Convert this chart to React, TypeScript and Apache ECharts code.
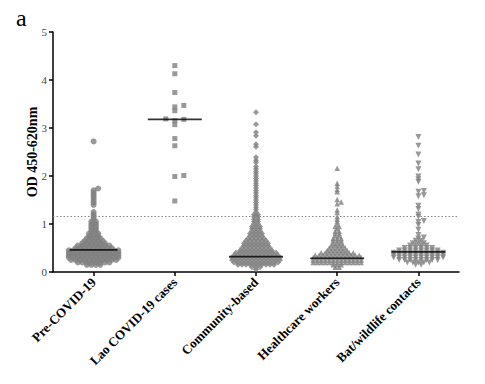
import React, { useEffect, useRef } from "react";
import * as echarts from "echarts";

const categories = [
  "Pre-COVID-19",
  "Lao COVID-19 cases",
  "Community-based",
  "Healthcare workers",
  "Bat/wildlife contacts",
];
const yTicks = [0, 1, 2, 3, 4, 5];

// Pre-COVID-19 (value rows and number of points in each row)
const preValues = [0.15, 0.2, 0.25, 0.3, 0.35, 0.4, 0.45, 0.5, 0.55, 0.6, 0.65, 0.7, 0.75, 0.8, 0.85, 0.9, 0.95, 1.0, 1.05, 1.1, 1.15, 1.2, 1.25, 1.4, 1.45, 1.5, 1.55, 1.6, 1.65, 1.7, 1.74, 2.72];
const preCounts = [4, 8, 11, 12, 12, 12, 12, 9, 8, 6, 5, 4, 3, 3, 2, 2, 2, 2, 2, 1, 1, 1, 1, 1, 1, 1, 1, 1, 1, 1, 1, 1];

// Lao COVID-19 cases
const laoValues = [4.3, 4.13, 3.74, 3.47, 3.44, 3.36, 3.19, 3.18, 3.15, 3.07, 2.78, 2.63, 2.01, 1.99, 1.48];
const laoCounts = [1, 1, 1, 1, 1, 1, 1, 1, 1, 1, 1, 1, 1, 1, 1];

// Community-based
const comValues = [0.05, 0.1, 0.15, 0.2, 0.25, 0.3, 0.35, 0.4, 0.45, 0.5, 0.55, 0.6, 0.65, 0.7, 0.75, 0.8, 0.85, 0.9, 0.95, 1.0, 1.05, 1.1, 1.15, 1.2, 1.25, 1.3, 1.35, 1.4, 1.45, 1.5, 1.55, 1.6, 1.65, 1.7, 1.75, 1.8, 1.85, 1.9, 1.95, 2.0, 2.05, 2.1, 2.15, 2.2, 2.28, 2.33, 2.39, 2.61, 2.66, 2.84, 2.91, 3.08, 3.33];
const comCounts = [1, 3, 10, 12, 13, 13, 12, 11, 9, 8, 7, 7, 6, 5, 4, 4, 3, 3, 3, 2, 2, 2, 2, 2, 1, 1, 1, 1, 1, 1, 1, 1, 1, 1, 1, 1, 1, 1, 1, 1, 1, 1, 1, 1, 1, 1, 1, 1, 1, 1, 1, 1, 1];

// Healthcare workers
const hcwValues = [0.1, 0.15, 0.2, 0.25, 0.3, 0.35, 0.4, 0.45, 0.5, 0.55, 0.6, 0.65, 0.7, 0.75, 0.8, 0.85, 0.9, 0.95, 1.0, 1.05, 1.1, 1.15, 1.24, 1.29, 1.42, 1.46, 1.51, 1.67, 1.72, 1.79, 1.85, 2.16];
const hcwCounts = [2, 3, 13, 13, 13, 12, 9, 6, 5, 4, 3, 3, 3, 2, 2, 2, 1, 2, 1, 1, 1, 1, 1, 1, 1, 1, 1, 1, 1, 1, 1, 1];

// Bat/wildlife contacts
const batValues = [0.15, 0.2, 0.25, 0.3, 0.35, 0.4, 0.45, 0.5, 0.55, 0.6, 0.65, 0.7, 0.72, 0.77, 0.88, 0.98, 1.04, 1.06, 1.15, 1.2, 1.31, 1.38, 1.58, 1.6, 1.67, 1.69, 1.88, 1.93, 1.99, 2.14, 2.26, 2.45, 2.63, 2.81];
const batCounts = [2, 5, 8, 10, 10, 10, 8, 6, 4, 3, 2, 1, 1, 1, 1, 1, 1, 1, 1, 1, 1, 1, 1, 1, 1, 1, 1, 1, 1, 1, 1, 1, 1, 1];

const medians = [0.46, 3.18, 0.32, 0.285, 0.42];
const cutoff = 1.17;

const Y_PX = 48; // px per OD unit (used only for swarm collision spacing)
const FONT = "'Liberation Serif', 'Times New Roman', serif";
const GRAY = "#808080";

// beeswarm layout: returns data items on the category axis with a pixel x offset
function swarm(values: number[], counts: number[], cat: number, sx: number, sy: number) {
  const pts: number[] = [];
  values.forEach((v, i) => {
    for (let k = 0; k < counts[i]; k++) pts.push(v);
  });
  pts.sort((a, b) => a - b);
  const placed: { x: number; y: number; v: number }[] = [];
  for (const v of pts) {
    const y = v * Y_PX;
    let k = 0;
    let off = 0;
    while (k < 200) {
      const step = Math.ceil(k / 2);
      const cand = k === 0 ? 0 : (k % 2 === 1 ? step : -step) * sx;
      const hit = placed.some((p) => Math.abs(p.y - y) < sy && Math.abs(p.x - cand) < sx * 0.99);
      if (!hit) {
        off = cand;
        break;
      }
      k++;
    }
    placed.push({ x: off, y, v });
  }
  const rows = new Map<number, { x: number; y: number; v: number }[]>();
  placed.forEach((p) => {
    const r = rows.get(p.v) || [];
    r.push(p);
    rows.set(p.v, r);
  });
  rows.forEach((r) => {
    if (r.length > 1) {
      const m = r.reduce((s, p) => s + p.x, 0) / r.length;
      r.forEach((p) => (p.x -= m));
    }
  });
  return placed.map((p) => ({ value: [cat, p.v], symbolOffset: [p.x, 0] }));
}

export default function App() {
  const ref = useRef<HTMLDivElement>(null);
  useEffect(() => {
    document.body.style.margin = "0";
    if (!ref.current) return;
    const chart = echarts.init(ref.current, null, { renderer: "svg" });
    const groups = [
      { v: preValues, c: preCounts, symbol: "circle", size: 6, sx: 4.5, rot: 0, half: 24 },
      { v: laoValues, c: laoCounts, symbol: "rect", size: 5, sx: 9, rot: 0, half: 27 },
      { v: comValues, c: comCounts, symbol: "diamond", size: 6, sx: 4, rot: 0, half: 27 },
      { v: hcwValues, c: hcwCounts, symbol: "triangle", size: 5.5, sx: 4, rot: 0, half: 27 },
      { v: batValues, c: batCounts, symbol: "triangle", size: 6, sx: 5.5, rot: 180, half: 27 },
    ];
    const series: any[] = [];
    groups.forEach((g, i) => {
      series.push({
        type: "scatter",
        data: swarm(g.v, g.c, i, g.sx, 2.2),
        symbol: g.symbol,
        symbolSize: g.size,
        symbolRotate: g.rot,
        itemStyle: { color: GRAY },
        z: 2,
        silent: true,
        markLine:
          i === 0
            ? {
                silent: true,
                symbol: ["none", "none"],
                label: { show: false },
                lineStyle: { color: "#888", width: 1, type: [1.5, 2] },
                data: [{ yAxis: cutoff }],
                z: 3,
              }
            : undefined,
      });
    });
    // median bars
    series.push({
      type: "scatter",
      data: medians.map((m, i) => ({
        value: [i, m],
        symbolSize: [groups[i].half * 2, 1.6],
      })),
      symbol: "rect",
      itemStyle: { color: "#000" },
      z: 5,
      silent: true,
    });
    chart.setOption({
      animation: false,
      grid: { left: 53, right: 26, top: 32, bottom: 112 },
      xAxis: {
        type: "category",
        data: categories,
        axisLine: { show: true, onZero: false, lineStyle: { color: "#000", width: 1.5 } },
        axisTick: { show: true, alignWithLabel: true, length: 4, lineStyle: { color: "#000", width: 1.5 } },
        axisLabel: {
          rotate: 45,
          interval: 0,
          fontFamily: FONT,
          fontWeight: "bold",
          fontSize: 13,
          color: "#000",
          margin: 8,
        },
        splitLine: { show: false },
      },
      yAxis: {
        type: "value",
        min: yTicks[0],
        max: yTicks[yTicks.length - 1],
        interval: 1,
        name: "OD 450-620nm",
        nameLocation: "middle",
        nameGap: 14,
        nameMoveOverlap: false,
        nameTextStyle: { fontFamily: FONT, fontWeight: "bold", fontSize: 14, color: "#000" },
        axisLine: { show: true, onZero: false, lineStyle: { color: "#000", width: 1.5 } },
        axisTick: { show: true, length: 4, lineStyle: { color: "#000", width: 1.5 } },
        axisLabel: { fontFamily: FONT, fontSize: 11, color: "#444", margin: 6 },
        splitLine: { show: false },
      },
      graphic: [
        {
          type: "text",
          left: 16,
          top: 6,
          style: { text: "a", font: `24px ${FONT}`, fill: "#000" },
        },
      ],
      series,
    });
    return () => chart.dispose();
  }, []);
  return <div ref={ref} style={{ width: 485, height: 384 }} />;
}
